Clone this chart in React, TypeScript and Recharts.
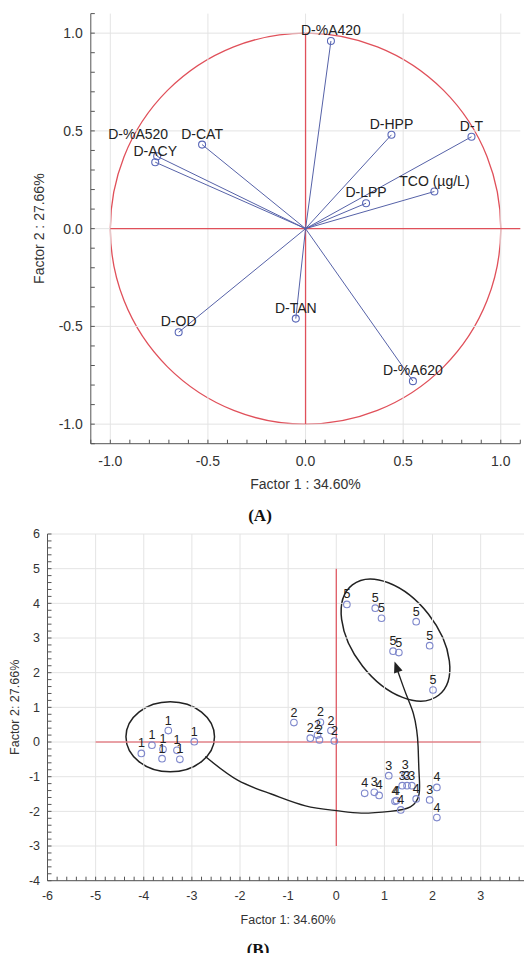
import React from "react";
import { ComposedChart, Scatter, XAxis, YAxis, ReferenceLine, ReferenceArea, Label } from "recharts";

const FONT = "'Liberation Sans', Arial, Helvetica, sans-serif";
const FRAME = "#555";
const GRID = "#e4e4e4";
const RED = "#e0505a";
const VEC = "#5662a8";
const DOT_A = "#5a68b8";
const DOT_B = "#7f88cc";
const INK = "#222";

// ---- (A) factor loadings ----
const VAR_NAMES = ["D-%A420", "D-HPP", "D-T", "TCO (µg/L)", "D-LPP", "D-%A520", "D-CAT", "D-ACY", "D-OD", "D-TAN", "D-%A620"];
const LOAD_F1 = [0.13, 0.44, 0.85, 0.66, 0.31, -0.76, -0.53, -0.77, -0.65, -0.05, 0.55];
const LOAD_F2 = [0.96, 0.48, 0.47, 0.19, 0.13, 0.37, 0.43, 0.34, -0.53, -0.46, -0.78];
const A_MAJOR = [-1, -0.5, 0, 0.5, 1];

// ---- (B) factor scores per group ----
const G1_F1 = [-4.05, -3.83, -3.49, -2.95, -3.6, -3.62, -3.31, -3.25];
const G1_F2 = [-0.33, -0.09, 0.33, 0.01, -0.21, -0.48, -0.24, -0.5];
const G2_F1 = [-0.88, -0.33, -0.11, -0.54, -0.39, -0.35, -0.04];
const G2_F2 = [0.56, 0.57, 0.33, 0.11, 0.2, 0.06, 0.03];
const G3_F1 = [1.09, 1.43, 1.37, 1.47, 1.57, 1.94, 0.79];
const G3_F2 = [-0.97, -0.95, -1.26, -1.26, -1.26, -1.67, -1.45];
const G4_F1 = [1.66, 2.09, 2.09, 0.59, 0.89, 1.25, 1.22, 1.34];
const G4_F2 = [-1.64, -1.31, -2.18, -1.48, -1.54, -1.69, -1.71, -1.96];
const G5_F1 = [0.22, 0.81, 0.94, 1.66, 1.94, 1.18, 1.3, 2.01];
const G5_F2 = [3.97, 3.86, 3.57, 3.47, 2.78, 2.62, 2.58, 1.5];
const B_X_MAJOR = [-6, -5, -4, -3, -2, -1, 0, 1, 2, 3, 4];
const B_Y_MAJOR = [-4, -3, -2, -1, 0, 1, 2, 3, 4, 5, 6];

// hand-drawn annotations in (B), in data units
const ARROW_PATH = [
  { x: -2.72, y: -0.42 }, { x: -2.05, y: -1.1 }, { x: -1.35, y: -1.5 }, { x: -0.64, y: -1.84 },
  { x: 0, y: -1.98 }, { x: 0.52, y: -2.05 }, { x: 1.12, y: -2.0 }, { x: 1.54, y: -1.87 },
  { x: 1.72, y: -1.5 }, { x: 1.72, y: -0.9 }, { x: 1.7, y: -0.13 }, { x: 1.67, y: 0.35 },
  { x: 1.6, y: 0.83 }, { x: 1.47, y: 1.31 }, { x: 1.34, y: 1.8 }, { x: 1.27, y: 2.08 },
];
const ARROW_TIP = [{ x: 1.21, y: 2.32 }];
const ELLIPSE_G1 = { cx: -3.45, cy: 0.15, rx: 0.92, ry: 1.01, angle: 0 };
const ELLIPSE_G5 = { cx: 1.23, cy: 2.94, rx: 1.455, ry: 1.21, angle: 52 };

const LABEL_NUDGE: Record<string, [number, number]> = { "D-%A520": [-19, -11] };

function steps(from: number, to: number, step: number) {
  const n = Math.round((to - from) / step);
  return Array.from({ length: n + 1 }, (_, i) => Math.round((from + i * step) * 100) / 100);
}

const A_TICKS = steps(-1.1, 1.1, 0.1);
const B_X_TICKS = steps(-6, 4, 0.2);
const B_Y_TICKS = steps(-4, 6, 0.2);

const loadings = VAR_NAMES.map((name, i) => ({ name, x: LOAD_F1[i], y: LOAD_F2[i] }));
const scores = [
  ...G1_F1.map((x, i) => ({ g: "1", x, y: G1_F2[i] })),
  ...G2_F1.map((x, i) => ({ g: "2", x, y: G2_F2[i] })),
  ...G3_F1.map((x, i) => ({ g: "3", x, y: G3_F2[i] })),
  ...G4_F1.map((x, i) => ({ g: "4", x, y: G4_F2[i] })),
  ...G5_F1.map((x, i) => ({ g: "5", x, y: G5_F2[i] })),
];

const fmtA = (v: number) => (A_MAJOR.some((m) => Math.abs(m - v) < 1e-6) ? v.toFixed(1) : "");
const fmtBX = (v: number) => (B_X_MAJOR.some((m) => Math.abs(m - v) < 1e-6) ? String(Math.round(v)) : "");
const fmtBY = (v: number) => (B_Y_MAJOR.some((m) => Math.abs(m - v) < 1e-6) ? String(Math.round(v)) : "");
const blank = () => "";

const ellipseShape = (angle: number, stroke: string, width: number) => (p: any) => {
  const cx = p.x + p.width / 2;
  const cy = p.y + p.height / 2;
  return (
    <ellipse cx={cx} cy={cy} rx={Math.abs(p.width) / 2} ry={Math.abs(p.height) / 2}
      transform={`rotate(${angle} ${cx} ${cy})`} fill="none" stroke={stroke} strokeWidth={width} />
  );
};

const LoadingDot = (p: any) => {
  const [dx, dy] = LABEL_NUDGE[p.payload.name] ?? [0, 0];
  return (
    <g>
      <circle cx={p.cx} cy={p.cy} r={3.5} fill="none" stroke={DOT_A} strokeWidth={1.1} />
      <text x={p.cx + dx} y={p.cy - 6 + dy} textAnchor="middle" fontSize={14} fill={INK}>{p.payload.name}</text>
    </g>
  );
};

const ScoreDot = (p: any) => (
  <g>
    <circle cx={p.cx} cy={p.cy} r={3.3} fill="none" stroke={DOT_B} strokeWidth={1.1} />
    <text x={p.cx} y={p.cy - 6} textAnchor="middle" fontSize={12.5} fill={INK}>{p.payload.g}</text>
  </g>
);

const NoDot = () => <g />;

const ArrowHead = (p: any) => (
  <polygon points={`${p.cx},${p.cy} ${p.cx - 4.5},${p.cy + 11} ${p.cx + 4.5},${p.cy + 11}`}
    transform={`rotate(-20 ${p.cx} ${p.cy})`} fill={INK} />
);

function LoadingChart() {
  return (
    <ComposedChart width={532} height={500} margin={{ top: 13.6, right: 11.7, bottom: 0, left: 0 }} style={{ fontFamily: FONT }}>
      <XAxis type="number" dataKey="x" domain={[-1.1, 1.1]} ticks={A_TICKS} interval={0} tickFormatter={fmtA}
        height={56.3} tickSize={-4} tickMargin={16} allowDataOverflow
        axisLine={{ stroke: FRAME }} tickLine={{ stroke: FRAME }} tick={{ fontSize: 14, fill: "#333" }}>
        <Label value="Factor 1 : 34.60%" position="insideBottom" offset={11} fontSize={14} fill="#333" />
      </XAxis>
      <XAxis xAxisId="top" orientation="top" type="number" domain={[-1.1, 1.1]} ticks={A_TICKS} interval={0}
        tickFormatter={blank} height={0} tickSize={4} mirror allowDataOverflow
        axisLine={{ stroke: FRAME }} tickLine={{ stroke: FRAME }} />
      <YAxis type="number" dataKey="y" domain={[-1.1, 1.1]} ticks={A_TICKS} interval={0} tickFormatter={fmtA}
        width={90.8} tickSize={-4} tickMargin={12} allowDataOverflow
        axisLine={{ stroke: FRAME }} tickLine={{ stroke: FRAME }} tick={{ fontSize: 14, fill: "#333" }}>
        <Label value="Factor 2 : 27.66%" angle={-90} position="center" dx={-6} fontSize={14} fill="#333" />
      </YAxis>
      <YAxis yAxisId="right" orientation="right" type="number" domain={[-1.1, 1.1]} ticks={A_TICKS} interval={0}
        tickFormatter={blank} width={0} tickSize={4} mirror allowDataOverflow
        axisLine={{ stroke: FRAME }} tickLine={{ stroke: FRAME }} />

      {A_MAJOR.map((v) => <ReferenceLine key={`gx${v}`} x={v} stroke={GRID} />)}
      {A_MAJOR.map((v) => <ReferenceLine key={`gy${v}`} y={v} stroke={GRID} />)}

      <ReferenceArea x1={-1} x2={1} y1={-1} y2={1} ifOverflow="visible" shape={ellipseShape(0, RED, 1.3)} />
      <ReferenceLine segment={[{ x: 0, y: -1 }, { x: 0, y: 1 }]} stroke={RED} strokeWidth={1.3} ifOverflow="visible" />
      <ReferenceLine segment={[{ x: -1, y: 0 }, { x: 1.1, y: 0 }]} stroke={RED} strokeWidth={1.3} ifOverflow="visible" />

      {loadings.map((d) => (
        <ReferenceLine key={d.name} segment={[{ x: 0, y: 0 }, { x: d.x, y: d.y }]} stroke={VEC} strokeWidth={1} ifOverflow="visible" />
      ))}
      <Scatter data={loadings} shape={LoadingDot} isAnimationActive={false} />
    </ComposedChart>
  );
}

function ScoreChart() {
  return (
    <ComposedChart width={532} height={420} margin={{ top: 14, right: 3.2, bottom: 0, left: 0 }} style={{ fontFamily: FONT }}>
      <XAxis type="number" dataKey="x" domain={[-6, 4]} ticks={B_X_TICKS} interval={0} tickFormatter={fmtBX}
        height={59.3} tickSize={-4} tickMargin={14.6} allowDataOverflow
        axisLine={{ stroke: FRAME }} tickLine={{ stroke: FRAME }} tick={{ fontSize: 12.5, fill: "#333" }}>
        <Label value="Factor 1: 34.60%" position="insideBottom" offset={16.5} fontSize={12.5} fill="#333" />
      </XAxis>
      <XAxis xAxisId="top" orientation="top" type="number" domain={[-6, 4]} ticks={B_X_TICKS} interval={0}
        tickFormatter={blank} height={0} tickSize={4} mirror allowDataOverflow
        axisLine={{ stroke: FRAME }} tickLine={{ stroke: FRAME }} />
      <YAxis type="number" dataKey="y" domain={[-4, 6]} ticks={B_Y_TICKS} interval={0} tickFormatter={fmtBY}
        width={47.5} tickSize={-4} tickMargin={11.5} allowDataOverflow
        axisLine={{ stroke: FRAME }} tickLine={{ stroke: FRAME }} tick={{ fontSize: 12.5, fill: "#333" }}>
        <Label value="Factor 2: 27.66%" angle={-90} position="center" dx={-9.5} fontSize={12.5} fill="#333" />
      </YAxis>
      <YAxis yAxisId="right" orientation="right" type="number" domain={[-4, 6]} ticks={B_Y_TICKS} interval={0}
        tickFormatter={blank} width={0} tickSize={4} mirror allowDataOverflow
        axisLine={{ stroke: FRAME }} tickLine={{ stroke: FRAME }} />

      {B_X_MAJOR.map((v) => <ReferenceLine key={`gx${v}`} x={v} stroke={GRID} />)}
      {B_Y_MAJOR.map((v) => <ReferenceLine key={`gy${v}`} y={v} stroke={GRID} />)}

      <ReferenceLine segment={[{ x: -5, y: 0 }, { x: 3, y: 0 }]} stroke={RED} strokeWidth={1.2} ifOverflow="visible" />
      <ReferenceLine segment={[{ x: 0, y: -3 }, { x: 0, y: 5 }]} stroke={RED} strokeWidth={1.2} ifOverflow="visible" />

      <ReferenceArea x1={ELLIPSE_G1.cx - ELLIPSE_G1.rx} x2={ELLIPSE_G1.cx + ELLIPSE_G1.rx}
        y1={ELLIPSE_G1.cy - ELLIPSE_G1.ry} y2={ELLIPSE_G1.cy + ELLIPSE_G1.ry} ifOverflow="visible"
        shape={ellipseShape(ELLIPSE_G1.angle, INK, 1.5)} />
      <ReferenceArea x1={ELLIPSE_G5.cx - ELLIPSE_G5.rx} x2={ELLIPSE_G5.cx + ELLIPSE_G5.rx}
        y1={ELLIPSE_G5.cy - ELLIPSE_G5.ry} y2={ELLIPSE_G5.cy + ELLIPSE_G5.ry} ifOverflow="visible"
        shape={ellipseShape(ELLIPSE_G5.angle, INK, 1.5)} />

      <Scatter data={ARROW_PATH} fill={INK} line={{ stroke: INK, strokeWidth: 1.4 }} lineJointType="natural"
        shape={NoDot} isAnimationActive={false} />
      <Scatter data={ARROW_TIP} shape={ArrowHead} isAnimationActive={false} />
      <Scatter data={scores} shape={ScoreDot} isAnimationActive={false} />
    </ComposedChart>
  );
}

const caption: React.CSSProperties = {
  position: "absolute", width: 532, left: 0, textAlign: "center",
  fontFamily: "'Liberation Serif', 'Times New Roman', serif", fontWeight: "bold", fontSize: 17, color: "#111",
};

export default function App() {
  return (
    <div style={{ position: "relative", width: 532, height: 961, margin: -8, background: "#fff", overflow: "hidden" }}>
      <div style={{ position: "absolute", left: 0, top: 0 }}>
        <LoadingChart />
      </div>
      <div style={{ ...caption, top: 506, left: -6 }}>(A)</div>
      <div style={{ position: "absolute", left: 0, top: 520 }}>
        <ScoreChart />
      </div>
      <div style={{ ...caption, top: 940, left: -8 }}>(B)</div>
    </div>
  );
}
